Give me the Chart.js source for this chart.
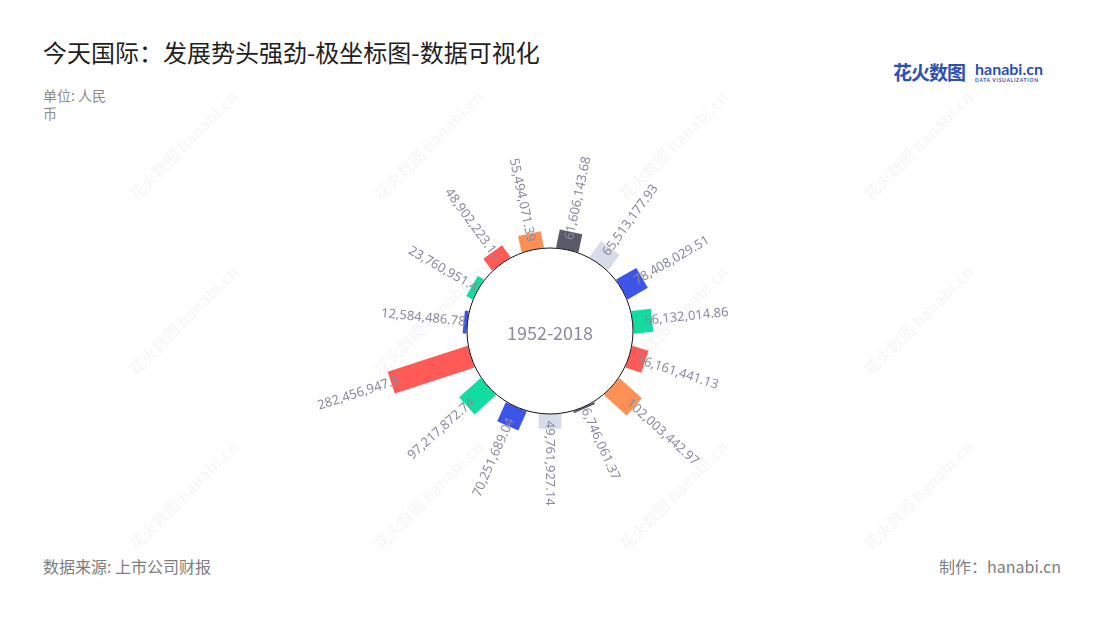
<!DOCTYPE html>
<html>
<head>
<meta charset="utf-8">
<script src="https://cdn.jsdelivr.net/npm/chart.js@4/dist/chart.umd.min.js"></script>
<style>
  html, body { margin: 0; padding: 0; background: #fff; }
  body { width: 1100px; height: 620px; position: relative; overflow: hidden;
         font-family: "Noto Sans CJK SC", "Noto Sans", sans-serif; }
  .txt { position: absolute; white-space: nowrap; }
  #title { left: 43px; top: 37px; font-size: 24px; line-height: 30px; color: #1e1e1e; }
  #unit { left: 43px; top: 86px; font-size: 14px; line-height: 18px; color: #8c8c8c; width: 68px; white-space: normal; }
  #source { left: 43px; top: 555px; font-size: 16px; line-height: 22px; color: #7d7d7d; }
  #credit { right: 39px; top: 555px; font-size: 16px; line-height: 22px; color: #7d7d7d; }
  #logo { left: 893px; top: 58px; color: #2c4fb4; font-weight: bold; }
  #logo .cn { font-size: 19px; letter-spacing: -1px; }
  #logo .en { position: absolute; left: 82px; top: 1px; font-family: "Lato", sans-serif; font-size: 16px; }
  #logo .sub { position: absolute; left: 82px; top: 19px; font-family: "Lato", sans-serif; font-size: 5px; letter-spacing: 0.7px; font-weight: bold; }
  .wm { position: absolute; transform: rotate(-45deg); color: rgba(0,0,0,0.045); font-weight: bold;
        font-size: 16px; white-space: nowrap; }
  #wrap { position: absolute; left: 0; top: 0; width: 1100px; height: 620px; }
</style>
</head>
<body>
<div id="marks"></div>
<div class="txt" id="title">今天国际：发展势头强劲-极坐标图-数据可视化</div>
<div class="txt" id="unit">单位: 人民币</div>
<div class="txt" id="logo"><span class="cn">花火数图</span><span class="en">hanabi.cn</span><span class="sub">DATA VISUALIZATION</span></div>
<div class="txt" id="source">数据来源: 上市公司财报</div>
<div class="txt" id="credit">制作：hanabi.cn</div>
<div id="wrap"><canvas id="polar" width="1100" height="620"></canvas></div>

<script>
// 数据 (顺时针, 从正上方开始)
const categories = ['1', '2', '3', '4', '5', '6', '7', '8', '9', '10', '11', '12', '13', '14', '15'];
const values = [
    61606143.68, 65513177.93, 78408029.51, 66132014.86, 56161441.13,
    102003442.97, 6746061.37, 49761927.14, 70251689.04, 97217872.74,
    282456947.3, 12584486.78, 23760951.4, 48902223.12, 55494071.39
];
const barColors = [
    '#5a5a68', '#d6dce8', '#3c55e8', '#12dca0', '#ff5a55',
    '#ff9055', '#5a5a68', '#d6dce8', '#3c55e8', '#12dca0',
    '#ff5a55', '#3c55e8', '#12dca0', '#ff5a55', '#ff9055'
];
const centerLabel = '1952-2018';

// 水印
const marks = document.getElementById('marks');
[180, 425, 670, 915].forEach(x => {
    [145, 320, 495].forEach(y => {
        const m = document.createElement('div');
        m.className = 'wm';
        m.textContent = '花火数图 hanabi.cn';
        m.style.left = (x - 70) + 'px';
        m.style.top = (y - 12) + 'px';
        marks.appendChild(m);
    });
});

// 尺寸: 内圆半径 / 最大柱外端半径 / 绘图半径
const INNER = 83;
const OUTER = 167;
const AREA = 200;
const maxVal = Math.max(...values);
const rMin = -INNER / (OUTER - INNER) * maxVal;
const rMax = rMin + AREA / (OUTER - INNER) * maxVal;

const BAR_W = 23;

const fmt = v => v.toLocaleString('en-US', { maximumFractionDigits: 2 });

// 把每个扇区画成矩形柱 + 中心圆 + 标签
const radialBars = {
    id: 'radialBars',
    afterDatasetsDraw(chart) {
        const ctx = chart.ctx;
        const scale = chart.scales.r;
        const base = scale.getDistanceFromCenterForValue(0);
        const meta = chart.getDatasetMeta(0);

        meta.data.forEach((arc, i) => {
            const mid = (arc.startAngle + arc.endAngle) / 2;
            ctx.save();
            ctx.translate(arc.x, arc.y);
            ctx.rotate(mid);
            ctx.fillStyle = barColors[i];
            ctx.fillRect(base, -BAR_W / 2, Math.max(arc.outerRadius - base, 2), BAR_W);
            ctx.restore();
        });

        // 中心圆
        ctx.save();
        ctx.beginPath();
        ctx.arc(scale.xCenter, scale.yCenter, base, 0, Math.PI * 2);
        ctx.fillStyle = '#fff';
        ctx.fill();
        ctx.lineWidth = 1;
        ctx.strokeStyle = '#111';
        ctx.stroke();
        ctx.fillStyle = '#8a8aa0';
        ctx.font = '18px "Noto Sans CJK SC", "Noto Sans", sans-serif';
        ctx.textAlign = 'center';
        ctx.textBaseline = 'middle';
        ctx.fillText(centerLabel, scale.xCenter, scale.yCenter + 2);
        ctx.restore();

        // 数值标签
        meta.data.forEach((arc, i) => {
            const mid = (arc.startAngle + arc.endAngle) / 2;
            const deg = (mid * 180 / Math.PI + 90 + 360) % 360; // 从正上方顺时针
            const start = Math.max(arc.outerRadius - 8, base + 2);
            ctx.save();
            ctx.translate(arc.x, arc.y);
            ctx.fillStyle = '#8a8aa0';
            ctx.font = '13px "Noto Sans", sans-serif';
            ctx.textBaseline = 'middle';
            if (deg <= 180) {
                ctx.rotate(mid);
                ctx.textAlign = 'left';
                ctx.fillText(fmt(values[i]), start, 0);
            } else {
                ctx.rotate(mid + Math.PI);
                ctx.textAlign = 'right';
                ctx.fillText(fmt(values[i]), -start, 0);
            }
            ctx.restore();
        });
    }
};

new Chart(document.getElementById('polar'), {
    type: 'polarArea',
    data: {
        labels: categories,
        datasets: [{
            data: values,
            backgroundColor: 'rgba(0,0,0,0)',
            borderWidth: 0
        }]
    },
    options: {
        responsive: false,
        animation: false,
        layout: {
            padding: { left: 550 - AREA, right: 550 - AREA, top: 331 - AREA, bottom: 620 - 331 - AREA }
        },
        plugins: {
            legend: { display: false },
            tooltip: { enabled: false }
        },
        scales: {
            r: {
                min: rMin,
                max: rMax,
                beginAtZero: false,
                ticks: { display: false },
                grid: { display: false },
                angleLines: { display: false },
                pointLabels: { display: false }
            }
        }
    },
    plugins: [radialBars]
});
</script>
</body>
</html>
